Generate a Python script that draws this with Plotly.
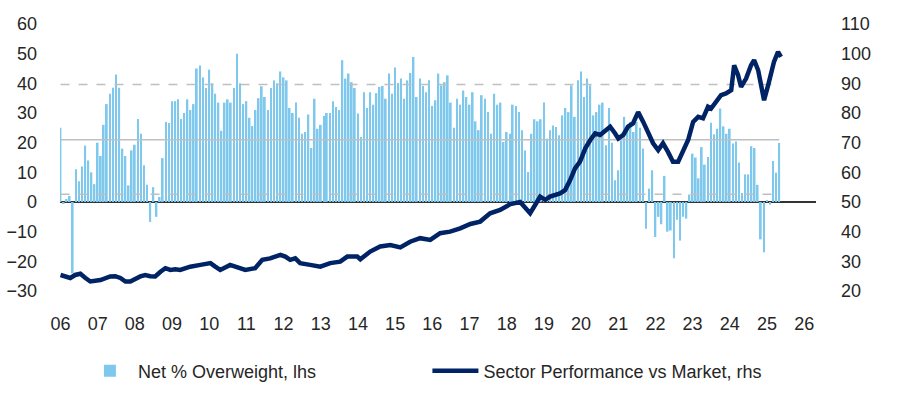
import pandas as pd
import plotly.graph_objects as go

# ---- Data ----
bar_start = "2006-01-01"
net_overweight = [
    25, -0.5, 1, 2, -24, 11, 7, 12, 19, 14, 10, 6,
    20, 15.5, 26, 33, 36.5, 38.5, 43, 38.5, 18, 15.5, 5.6, 17.4,
    19.3, 28, 23, 12.4, 5.8, -6.7, 5, -5, 1.7, 14.8, 27, 26.6,
    34, 34, 34.6, 28, 30, 34.6, 31, 33, 45, 46, 42, 38.4,
    44.6, 40, 36.5, 33.5, 24, 33.5, 34.6, 33.5, 38.4, 50, 40, 33,
    34, 28.4, 25.6, 31, 35, 39, 35.4, 31, 38.4, 41, 40, 44,
    42, 41, 31.7, 30, 33.5, 28.4, 23, 23.6, 29.5, 18.2, 34.8, 24.7,
    26, 29, 30, 30, 34, 32, 31, 47.8, 41.6, 43.3, 40.4, 38.4,
    29.8, 21.9, 37, 31.7, 37, 32.8, 36.7, 38.8, 39.1, 34.8, 43.3, 36.5,
    45.3, 40.1, 41.6, 34.8, 41, 43.5, 48.9, 35.4, 41.6, 39.1, 37, 41,
    32.4, 34.3, 43.3, 39.3, 40.4, 42.7, 33.5, 25, 34.8, 32.8, 37.6, 35.4,
    32.8, 37, 27.2, 24.2, 36, 34.8, 30.3, 23, 36.5, 32.8, 33.5, 20.2,
    23.6, 23, 32.8, 32.4, 30.3, 24.2, 17.4, 10.1, 23, 27.9, 27.2, 27.9,
    33.5, 21.3, 24.2, 25.8, 25.3, 22.5, 29.2, 31.7, 30.3, 39.3, 28.7, 41,
    44, 35.4, 41.6, 39.3, 29.2, 30.3, 32.8, 33.5, 19.1, 31.7, 20, 7.3,
    10.7, 20.8, 28.7, 24.2, 27, 23.6, 27, 25, 18, -9, 4.5, 10.7,
    -11.8, -5, -7.5, 8.8, -10, -9.6, -19, -6, -13, -5, -5.6, 2.5,
    16.3, 15, 8, 18.5, 12.6, 15.2, 26.7, 22.8, 24.7, 31.5, 25.5, 23,
    24.7, 19.7, 20.4, 13.3, 3, 9.3, 9.3, 18.8, 18.2, 5.8, -12.6, -16.9,
    0.5, -0.9, 13.8, 9.9, 19.9,
]

perf_dates = [
    "2006-01-01", "2006-02-20", "2006-04-07", "2006-05-25", "2006-07-15", "2006-09-03",
    "2006-10-21", "2007-01-28", "2007-05-04", "2007-06-22", "2007-08-12", "2007-10-01",
    "2007-11-18", "2008-02-24", "2008-04-12", "2008-06-01", "2008-07-19", "2008-09-09",
    "2008-10-27", "2008-12-15", "2009-02-03", "2009-03-22", "2009-06-28", "2009-10-06",
    "2010-01-13", "2010-03-01", "2010-04-19", "2010-07-25", "2010-09-15", "2010-11-03",
    "2010-12-21", "2011-03-28", "2011-06-06", "2011-08-22", "2011-12-01", "2012-01-18",
    "2012-03-06", "2012-04-25", "2012-06-12", "2012-09-18", "2012-12-27", "2013-04-03",
    "2013-07-10", "2013-09-18", "2013-12-25", "2014-01-24", "2014-05-01", "2014-08-07",
    "2014-11-15", "2015-02-21", "2015-05-28", "2015-09-04", "2015-12-12", "2016-03-18",
    "2016-06-24", "2016-10-01", "2017-01-09", "2017-04-15", "2017-07-22", "2017-10-28",
    "2018-02-06", "2018-05-13", "2018-07-19", "2018-08-19", "2018-10-07", "2018-11-25",
    "2019-01-15", "2019-03-03", "2019-06-09", "2019-07-28", "2019-09-15", "2019-11-03",
    "2019-12-22", "2020-02-12", "2020-04-01", "2020-05-19", "2020-07-06", "2020-08-25",
    "2020-10-13", "2020-12-01", "2021-01-01", "2021-02-19", "2021-04-07", "2021-05-25",
    "2021-07-15", "2021-09-03", "2021-10-21", "2021-12-09", "2022-01-28", "2022-03-16",
    "2022-05-04", "2022-06-22", "2022-08-12", "2022-10-01", "2022-11-18", "2023-01-06",
    "2023-02-25", "2023-04-13", "2023-06-01", "2023-07-01", "2023-08-19", "2023-10-07",
    "2023-11-25", "2024-01-15", "2024-02-13", "2024-03-22", "2024-04-21", "2024-06-09",
    "2024-07-28", "2024-08-27", "2024-10-06", "2024-11-03", "2024-12-03", "2025-01-12",
    "2025-02-12", "2025-03-10", "2025-04-19", "2025-05-18",
]
sector_perf = [
    25.4, 24.9, 24.4, 25.4, 25.8, 24.4,
    23.2, 23.7, 24.9, 25.0, 24.4, 23.2,
    23.2, 24.9, 25.4, 25.0, 24.9, 26.5,
    27.7, 27.1, 27.3, 27.1, 28.2, 28.8,
    29.4, 28.2, 27.1, 28.8, 28.2, 27.3,
    27.1, 27.7, 30.5, 31.0, 32.2, 31.6,
    30.5, 31.0, 29.4, 28.8, 28.2, 29.4,
    29.9, 31.6, 31.6, 30.7, 33.3, 35.0,
    35.5, 34.7, 36.6, 37.8, 37.2, 39.5,
    40.0, 41.1, 42.6, 43.4, 46.2, 47.3,
    49.3, 50.0, 47.3, 46.2, 49.0, 51.8,
    50.7, 51.8, 52.9, 54.0, 57.3, 61.3,
    63.6, 68.1, 70.9, 73.1, 72.6, 74.2,
    75.4, 73.1, 71.4, 72.6, 75.4, 76.5,
    80.3, 77.0, 73.1, 69.8, 67.5, 69.8,
    66.9, 63.6, 63.6, 67.5, 70.9, 77.0,
    78.7, 78.2, 82.1, 81.5, 83.8, 86.0,
    86.6, 87.7, 96.1, 92.8, 88.8, 91.6,
    96.1, 97.8, 94.4, 90.0, 84.3, 89.4,
    93.9, 97.2, 100.6, 98.9,
]

avg_level = 21.0
upper_band = 39.6
lower_band = 2.6

left_ticks = [-30, -20, -10, 0, 10, 20, 30, 40, 50, 60]
right_ticks = [20, 30, 40, 50, 60, 70, 80, 90, 100, 110]

bar_dates = pd.date_range(bar_start, periods=len(net_overweight), freq="MS")
band_x = [bar_dates[0], bar_dates[-1]]

BAR_COLOR = "#7DC8EC"
LINE_COLOR = "#002366"
BAND_COLOR = "#BFBFBF"
TEXT_COLOR = "#262626"
FONT = "Liberation Sans"

fig = go.Figure()

fig.add_trace(go.Scatter(x=band_x, y=[upper_band] * 2, mode="lines",
                         line=dict(color=BAND_COLOR, width=1.5, dash="dash"),
                         showlegend=False, hoverinfo="skip"))
fig.add_trace(go.Scatter(x=band_x, y=[avg_level] * 2, mode="lines",
                         line=dict(color=BAND_COLOR, width=1.5),
                         showlegend=False, hoverinfo="skip"))
fig.add_trace(go.Scatter(x=band_x, y=[lower_band] * 2, mode="lines",
                         line=dict(color=BAND_COLOR, width=1.5, dash="dash"),
                         showlegend=False, hoverinfo="skip"))

fig.add_trace(go.Bar(x=bar_dates, y=net_overweight, name="Net % Overweight, lhs",
                     marker=dict(color=BAR_COLOR, line=dict(width=0)), legend="legend"))

fig.add_trace(go.Scatter(x=perf_dates, y=sector_perf, name="Sector Performance vs Market, rhs",
                         mode="lines", yaxis="y2", legend="legend2",
                         line=dict(color=LINE_COLOR, width=4.5)))

fig.update_layout(
    width=900, height=396,
    margin=dict(l=60, r=84, t=24, b=105, autoexpand=False),
    paper_bgcolor="white", plot_bgcolor="white",
    font=dict(family=FONT, size=18, color=TEXT_COLOR),
    bargap=0.4,
    showlegend=True,
    legend=dict(orientation="h", x=0.029, xanchor="left", y=-0.30, yanchor="middle",
                font=dict(size=18, color=TEXT_COLOR), itemwidth=46),
    legend2=dict(orientation="h", x=0.486, xanchor="left", y=-0.30, yanchor="middle",
                 font=dict(size=18, color=TEXT_COLOR), itemwidth=46),
    xaxis=dict(type="date", range=["2005-12-27", "2026-04-27"], automargin=False,
               tick0="2006-01-01", dtick="M12", tickformat="%y",
               showgrid=False, showline=False, zeroline=False,
               ticks="", ticklabelstandoff=20,
               tickfont=dict(size=18, color=TEXT_COLOR)),
    yaxis=dict(range=[-30, 60], tickvals=left_ticks, showgrid=False, automargin=False,
               zeroline=True, zerolinecolor="#333333", zerolinewidth=2,
               showline=False, ticks="", ticklabelstandoff=22,
               tickfont=dict(size=18, color=TEXT_COLOR)),
    yaxis2=dict(range=[20, 110], tickvals=right_ticks, overlaying="y", side="right",
                showgrid=False, zeroline=False, showline=False, ticks="", automargin=False,
                ticklabelstandoff=24, tickfont=dict(size=18, color=TEXT_COLOR)),
)

fig.write_html(
    "out.html",
    config={"displayModeBar": False},
    post_script="document.body.style.margin='0';document.body.style.overflow='hidden';",
)
